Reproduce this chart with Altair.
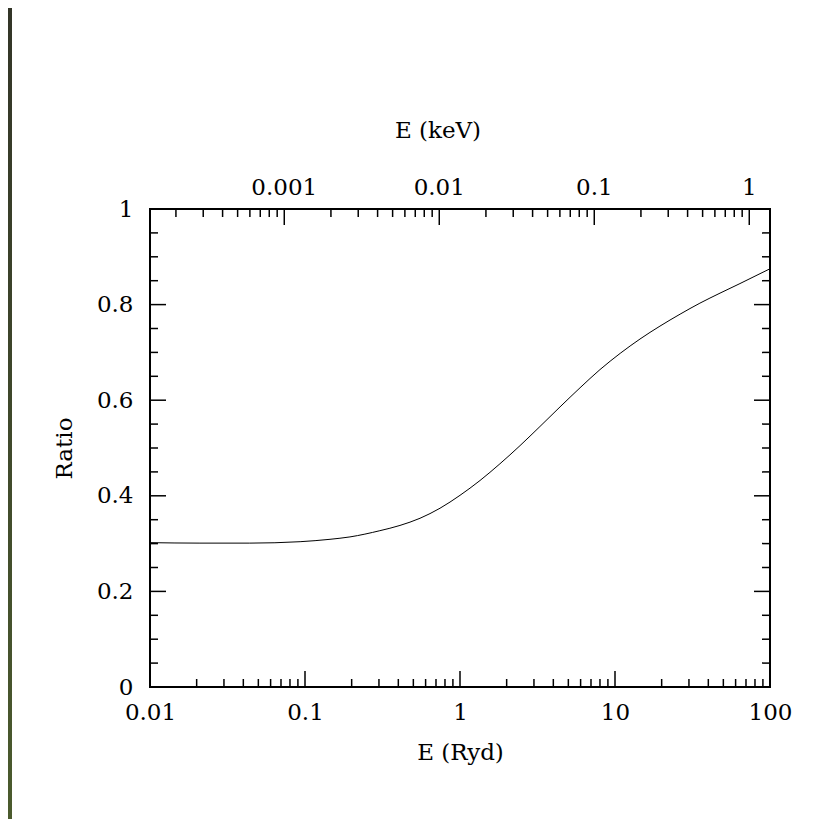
import altair as alt
import pandas as pd

# ---- data ----
E_ryd = [0.01, 0.021, 0.044, 0.093, 0.145, 0.195, 0.304, 0.41, 0.552, 0.743, 1.0, 1.346,
         1.81, 2.44, 3.28, 4.42, 5.95, 8.0, 10.8, 14.5, 19.5, 26.3, 35.3, 47.6, 64.0, 100]
ratio = [0.302, 0.301, 0.301, 0.304, 0.309, 0.314, 0.327, 0.338, 0.353, 0.374, 0.401, 0.432,
         0.467, 0.505, 0.545, 0.586, 0.626, 0.664, 0.698, 0.728, 0.755, 0.780, 0.803, 0.824,
         0.844, 0.875]

bottom_major = [0.01, 0.1, 1, 10, 100]
bottom_minor = [m * d for d in [0.01, 0.1, 1, 10] for m in range(2, 10)]
top_major_kev = [0.001, 0.01, 0.1, 1]
top_major_labels = ["0.001", "0.01", "0.1", "1"]
top_minor_kev = [m * d for d in [0.0001, 0.001, 0.01, 0.1] for m in range(2, 10)]
y_major = [0, 0.2, 0.4, 0.6, 0.8, 1.0]
y_minor = [0.05, 0.1, 0.15, 0.25, 0.3, 0.35, 0.45, 0.5, 0.55, 0.65, 0.7, 0.75, 0.85, 0.9, 0.95]

RYD_KEV = 0.0136057  # 1 Ryd in keV

W, H = 620, 478
FONT = "DejaVu Serif"
FS = 23

xs = alt.Scale(type="log", domain=[0.01, 100], nice=False)
ys = alt.Scale(domain=[0, 1], nice=False)

x_axis = alt.Axis(
    values=bottom_major, format="~g", ticks=False, tickSize=0, domain=False, grid=False,
    labelPadding=14, labelFlush=False, title="E (Ryd)", titleX=W / 2, titleY=65,
    titleBaseline="middle", titleAlign="center")
y_axis = alt.Axis(
    values=y_major, format="~g", ticks=False, tickSize=0, domain=False, grid=False,
    labelPadding=17, labelFlush=False, title="Ratio", titleX=-86, titleY=H / 2,
    titleBaseline="middle", titleAlign="center", titleAngle=270)

curve = pd.DataFrame({"E": E_ryd, "ratio": ratio})

line = alt.Chart(curve).mark_line(color="black", strokeWidth=1, interpolate="monotone").encode(
    x=alt.X("E:Q", scale=xs, axis=x_axis, title="E (Ryd)"),
    y=alt.Y("ratio:Q", scale=ys, axis=y_axis, title="Ratio"),
)

def xrules(vals, y0, y1):
    return alt.Chart(pd.DataFrame({"v": vals})).mark_rule(color="black", strokeWidth=1.5).encode(
        x=alt.X("v:Q", scale=xs, axis=x_axis, title="E (Ryd)"), y=alt.value(y0), y2=alt.value(y1))

def yrules(vals, x0, x1):
    return alt.Chart(pd.DataFrame({"v": vals})).mark_rule(color="black", strokeWidth=1.5).encode(
        y=alt.Y("v:Q", scale=ys, axis=y_axis, title="Ratio"), x=alt.value(x0), x2=alt.value(x1))

top_major_ryd = [k / RYD_KEV for k in top_major_kev]
top_minor_ryd = [k / RYD_KEV for k in top_minor_kev]

ticks = [
    xrules(bottom_major, H, H - 16),
    xrules(bottom_minor, H, H - 8),
    xrules(top_major_ryd, 0, 16),
    xrules(top_minor_ryd, 0, 8),
    yrules(y_major, 0, 16),
    yrules(y_minor, 0, 8),
    yrules(y_major, W, W - 16),
    yrules(y_minor, W, W - 8),
]

top_labels = alt.Chart(pd.DataFrame({"v": top_major_ryd, "lab": top_major_labels})).mark_text(
    font=FONT, fontSize=FS, baseline="middle", align="center", color="black").encode(
    x=alt.X("v:Q", scale=xs, axis=x_axis, title="E (Ryd)"), y=alt.value(-21), text="lab:N")

top_title = alt.Chart(pd.DataFrame({"t": ["E (keV)"]})).mark_text(
    font=FONT, fontSize=FS, baseline="middle", align="center", color="black").encode(
    x=alt.value(288), y=alt.value(-78), text="t:N")

strip = alt.Chart(pd.DataFrame({"a": [0]})).mark_rect(
    color=alt.Gradient(gradient="linear",
                       stops=[alt.GradientStop(color="#333528", offset=0),
                              alt.GradientStop(color="#4b5b2e", offset=1)],
                       x1=0, x2=0, y1=0, y2=1)).encode(
    x=alt.value(-142), x2=alt.value(-138), y=alt.value(-201), y2=alt.value(H + 132))

chart = alt.layer(line, *ticks, top_labels, top_title, strip).properties(
    width=W, height=H, background="white",
    padding={"left": 142, "top": 201, "right": 35, "bottom": 132},
    autosize=alt.AutoSizeParams(type="none"),
).configure_view(stroke="black", strokeWidth=2).configure_axis(
    labelFont=FONT, labelFontSize=FS, labelColor="black",
    titleFont=FONT, titleFontSize=FS, titleColor="black", titleFontWeight="normal",
)

chart.save("out.html", embed_options={"renderer": "svg", "actions": False})
